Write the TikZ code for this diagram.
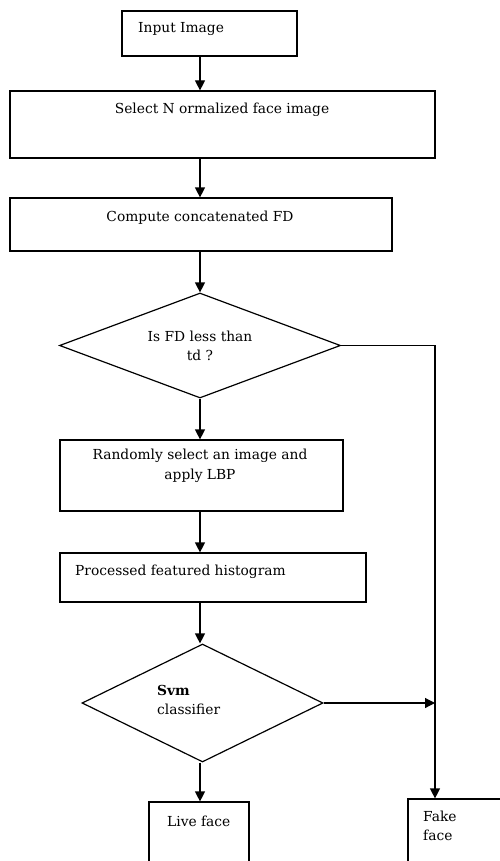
\documentclass[tikz,border=0pt]{standalone}
\usepackage{fontspec}
\setmainfont{DejaVu Serif}
\usetikzlibrary{shapes.geometric,arrows.meta,positioning}

\begin{document}
\begin{tikzpicture}[x=1pt, y=-1pt]
    \tikzstyle{block} = [rectangle, draw, line width=1.2pt, inner sep=0pt]
    \tikzstyle{decision} = [diamond, draw, line width=1.2pt, inner sep=0pt]
    \tikzstyle{txt} = [inner sep=0pt, font=\fontsize{13.8}{19.5}\selectfont, align=center]
    \tikzstyle{arrow} = [line width=1.2pt,->,>={Triangle[length=10pt,width=10pt]}]

    \useasboundingbox (0,0) rectangle (500,861);
    \clip (0,0) rectangle (500,861);

    % boxes
    \node [block, minimum width=175pt, minimum height=45pt] (input) at (209.5,33.5) {};
    \node [block, minimum width=425pt, minimum height=67pt] (norm) at (222.5,124.5) {};
    \node [block, minimum width=382pt, minimum height=53pt] (fd) at (201,224.5) {};
    \node [decision, minimum width=281pt, minimum height=105pt] (isfd) at (200,345.5) {};
    \node [block, minimum width=283pt, minimum height=71pt] (lbp) at (201.5,475.5) {};
    \node [block, minimum width=306pt, minimum height=49pt] (hist) at (213,577.5) {};
    \node [decision, minimum width=241pt, minimum height=118pt] (svm) at (202.5,703) {};
    \node [block, minimum width=100pt, minimum height=78pt] (live) at (199,841) {};
    \node [block, minimum width=112pt, minimum height=81pt] (fake) at (464,839.5) {};

    % texts
    \node [txt, anchor=base west] (inputtxt) at (138,33) {Input Image};
    \node [txt, anchor=base] (normtxt) at (222,114) {Select N ormalized face image};
    \node [txt, anchor=base] (fdtxt) at (200,221) {Compute concatenated FD};
    \node [txt] (isfdtxt) at (200,346) {Is FD less than\\td ?};
    \node [txt] (lbptxt) at (200,466) {Randomly select an image and\\apply LBP};
    \node [txt, anchor=base west] (histtxt) at (75,575) {Processed featured histogram};
    \node [txt, align=left, anchor=west] (svmtxt) at (157,700) {\textbf{Svm}\\classifier};
    \node [txt, anchor=base west] (livetxt) at (167,826) {Live face};
    \node [txt, align=left, anchor=west] (faketxt) at (423,826) {Fake\\face};

    % connectors
    \coordinate (spine) at (200,0);
    \coordinate (side) at (435,0);
    \draw [arrow] (input.south -| spine) -- (norm.north -| spine);
    \draw [arrow] (norm.south -| spine) -- (fd.north -| spine);
    \draw [arrow] (fd.south -| spine) -- (isfd.north);
    \draw [arrow] (isfd.south) -- (lbp.north -| spine);
    \draw [arrow] (lbp.south -| spine) -- (hist.north -| spine);
    \draw [arrow] (hist.south -| spine) -- (svm.north -| spine);
    \draw [arrow] (svm.south -| spine) -- (live.north -| spine);
    \draw [arrow] (isfd.east) -| (fake.north -| side);
    \draw [arrow] (svm.east) -- (svm.east -| side);
\end{tikzpicture}
\end{document}
